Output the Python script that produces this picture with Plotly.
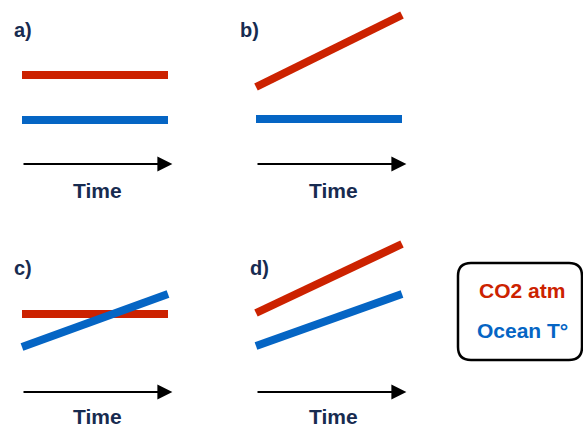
import plotly.graph_objects as go

W, H = 583, 427

# ---- data (schematic levels, arrow axis at level 0) ----
time = [0, 1]
panel_labels = ["a)", "b)", "c)", "d)"]
co2_levels = [[8.9, 8.9], [7.7, 14.9], [7.8, 7.8], [7.9, 14.8]]
ocean_levels = [[4.4, 4.4], [4.5, 4.5], [4.5, 9.8], [4.6, 9.8]]
axis_label = "Time"
legend_labels = ["CO2 atm", "Ocean T°"]

RED = "#cc2200"
BLUE = "#0565c4"
NAVY = "#172b50"
FONT = "Liberation Sans, Arial, sans-serif"

# panel boxes in pixels: (left, top)
panel_px = [(0, 0), (234, 0), (0, 227), (234, 227)]
PW, PH = 200, 200
XR = [-22 / 146, 178 / 146]

fig = go.Figure()
layout = dict(
    width=W, height=H, margin=dict(l=0, r=0, t=0, b=0),
    paper_bgcolor="white", plot_bgcolor="rgba(0,0,0,0)",
    showlegend=False, annotations=[], shapes=[],
)

for i in range(4):
    left, top = panel_px[i]
    arrow_y = 164 if top == 0 else 392
    yr = [(arrow_y - (top + PH)) / 10, (arrow_y - top) / 10]
    xa = "xaxis" if i == 0 else f"xaxis{i+1}"
    ya = "yaxis" if i == 0 else f"yaxis{i+1}"
    xr = "x" if i == 0 else f"x{i+1}"
    yrf = "y" if i == 0 else f"y{i+1}"
    layout[xa] = dict(domain=[left / W, (left + PW) / W], range=XR, visible=False,
                      fixedrange=True, anchor=yrf)
    layout[ya] = dict(domain=[1 - (top + PH) / H, 1 - top / H], range=yr, visible=False,
                      fixedrange=True, anchor=xr)
    fig.add_trace(go.Scatter(x=time, y=co2_levels[i], mode="lines",
                             line=dict(color=RED, width=8), xaxis=xr, yaxis=yrf,
                             hoverinfo="skip"))
    fig.add_trace(go.Scatter(x=time, y=ocean_levels[i], mode="lines",
                             line=dict(color=BLUE, width=8), xaxis=xr, yaxis=yrf,
                             hoverinfo="skip"))
    # time arrow
    layout["annotations"].append(dict(
        x=1.03, y=0, ax=0, ay=0, xref=xr, yref=yrf, axref=xr, ayref=yrf,
        text="", showarrow=True, arrowhead=2, arrowwidth=2, arrowsize=1.5,
        arrowcolor="black", standoff=0, startstandoff=0))
    # panel label
    lx = [12, 238, 12, 248][i]
    ly = 30 if top == 0 else 268
    layout["annotations"].append(dict(
        x=(lx - left) / PW, y=1 - (ly - top) / PH, xref=f"{xr} domain", yref=f"{yrf} domain",
        text=f"<b>{panel_labels[i]}</b>", showarrow=False, xanchor="left", yanchor="middle",
        font=dict(family=FONT, size=20, color=NAVY)))
    # Time label
    tx = 97 if left == 0 else 333
    ty = 190 if top == 0 else 416
    layout["annotations"].append(dict(
        x=(tx - left) / PW, y=1 - (ty - top) / PH, xref=f"{xr} domain", yref=f"{yrf} domain",
        text=f"<b>{axis_label}</b>", showarrow=False, xanchor="center", yanchor="middle",
        font=dict(family=FONT, size=21, color=NAVY)))

# legend box (rounded rectangle) in paper coords
x0, x1, y0, y1, r = 458, 582, 263, 360, 13
def px(v):
    return v / W
def py(v):
    return 1 - v / H
path = (f"M{px(x0 + r)},{py(y0)} L{px(x1 - r)},{py(y0)} Q{px(x1)},{py(y0)} {px(x1)},{py(y0 + r)} "
        f"L{px(x1)},{py(y1 - r)} Q{px(x1)},{py(y1)} {px(x1 - r)},{py(y1)} "
        f"L{px(x0 + r)},{py(y1)} Q{px(x0)},{py(y1)} {px(x0)},{py(y1 - r)} "
        f"L{px(x0)},{py(y0 + r)} Q{px(x0)},{py(y0)} {px(x0 + r)},{py(y0)} Z")
layout["shapes"].append(dict(type="path", path=path, xref="paper", yref="paper",
                             line=dict(color="black", width=2.5)))
for txt, col, yy in [(legend_labels[0], RED, 290), (legend_labels[1], BLUE, 330)]:
    layout["annotations"].append(dict(
        x=px(522), y=py(yy), xref="paper", yref="paper", text=f"<b>{txt}</b>",
        showarrow=False, xanchor="center", yanchor="middle",
        font=dict(family=FONT, size=21, color=col)))

fig.update_layout(**layout)
fig.write_html("out.html", config={"displayModeBar": False},
               post_script="document.body.style.margin='0';document.body.style.overflow='hidden';")
